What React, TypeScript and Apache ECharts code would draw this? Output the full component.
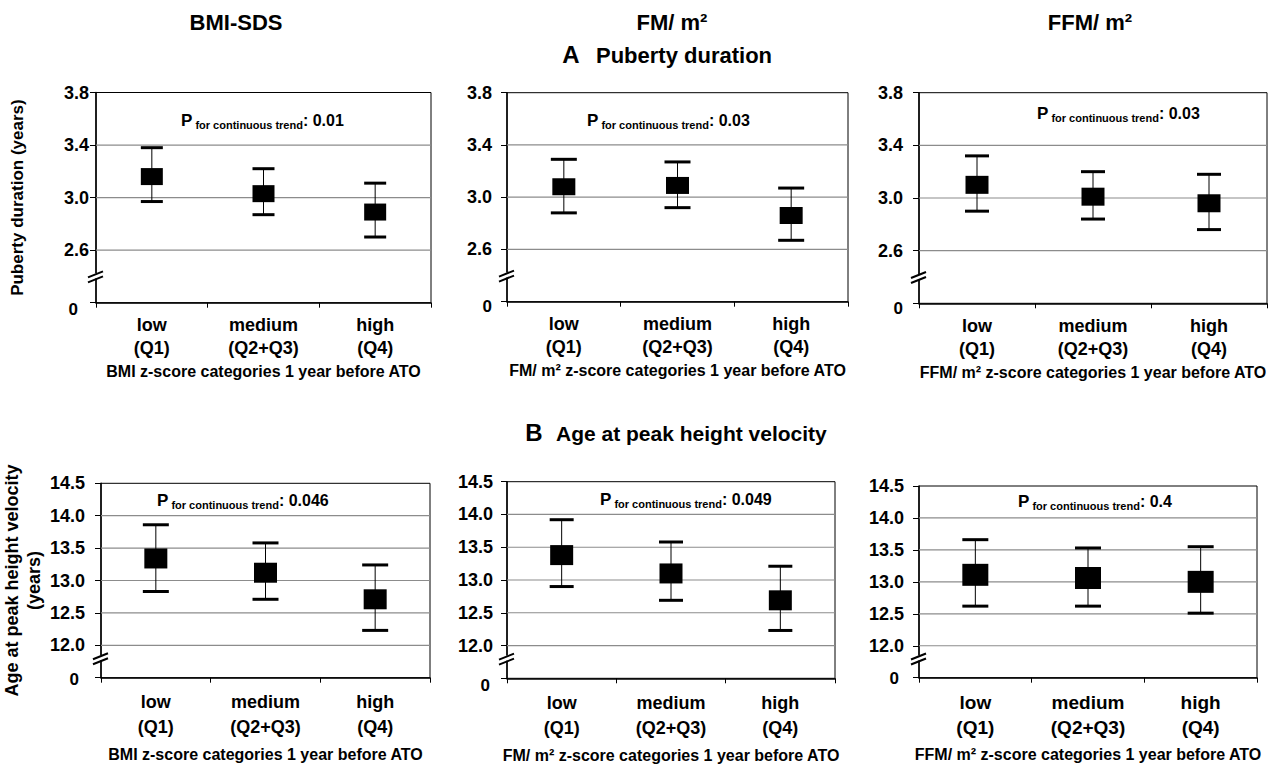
import React, { useEffect, useRef } from "react";
import * as echarts from "echarts";

// ---------- DATA ----------
const categories = ["low\n(Q1)", "medium\n(Q2+Q3)", "high\n(Q4)"];
const columnHeaders = ["BMI-SDS", "FM/ m²", "FFM/ m²"];
const xAxisTitles = [
  "BMI z-score categories 1 year before ATO",
  "FM/ m² z-score categories 1 year before ATO",
  "FFM/ m² z-score categories 1 year before ATO",
];
const sectionA = ["A", "Puberty duration"];
const sectionB = ["B", "Age at peak height velocity"];
const yTitlePuberty = "Puberty duration (years)";
const yTitleAphv = "Age at peak height velocity\n(years)";

// Puberty duration axis (broken axis: "0" drawn at the bottom)
const pubTickValues = [2.2, 2.6, 3.0, 3.4, 3.8];
const pubTickLabels = ["0", "2.6", "3.0", "3.4", "3.8"];
const pubGridValues = [2.6, 3.0, 3.4];
const pubBreak = 2.4;

// Age at peak height velocity axis
const aphvTickValues = [11.5, 12.0, 12.5, 13.0, 13.5, 14.0, 14.5];
const aphvTickLabels = ["0", "12.0", "12.5", "13.0", "13.5", "14.0", "14.5"];
const aphvGridValues = [12.0, 12.5, 13.0, 13.5, 14.0];
const aphvBreak = 11.8;

// Puberty duration (years)
const pubBmiMean = [3.16, 3.03, 2.89];
const pubBmiLower = [2.97, 2.87, 2.7];
const pubBmiUpper = [3.38, 3.22, 3.11];
const pubFmMean = [3.08, 3.09, 2.86];
const pubFmLower = [2.88, 2.92, 2.67];
const pubFmUpper = [3.29, 3.27, 3.07];
const pubFfmMean = [3.1, 3.01, 2.96];
const pubFfmLower = [2.9, 2.84, 2.76];
const pubFfmUpper = [3.32, 3.2, 3.18];

// Age at peak height velocity (years)
const aphvBmiMean = [13.34, 13.12, 12.71];
const aphvBmiLower = [12.83, 12.71, 12.23];
const aphvBmiUpper = [13.86, 13.58, 13.24];
const aphvFmMean = [13.38, 13.1, 12.69];
const aphvFmLower = [12.9, 12.69, 12.23];
const aphvFmUpper = [13.92, 13.58, 13.21];
const aphvFfmMean = [13.11, 13.06, 13.0];
const aphvFfmLower = [12.62, 12.62, 12.51];
const aphvFfmUpper = [13.66, 13.53, 13.55];

const pValues = ["0.01", "0.03", "0.03", "0.046", "0.049", "0.4"];

// ---------- LAYOUT ----------
const FONT = "'Liberation Sans', Arial, Helvetica, sans-serif";

type Panel = {
  mean: number[];
  lower: number[];
  upper: number[];
  ticks: number[];
  tickLabels: string[];
  gridVals: number[];
  brk: number;
  p: string;
  xTitle: string;
  yTitle?: string;
  rect: { left: number; top: number; width: number; height: number };
  labelMargin: number;
  zeroPad: [number, number];
  pPos: [number, number];
  sym: [number, number];
  capW: number;
  catFont: number;
  catLH: number;
  catMargin: number;
  nameGap: number;
  yNameGap?: number;
};

const panels: Panel[] = [
  {
    mean: pubBmiMean, lower: pubBmiLower, upper: pubBmiUpper,
    ticks: pubTickValues, tickLabels: pubTickLabels, gridVals: pubGridValues, brk: pubBreak,
    p: pValues[0], xTitle: xAxisTitles[0], yTitle: yTitlePuberty,
    rect: { left: 96, top: 92.5, width: 335, height: 210.2 },
    labelMargin: 7, zeroPad: [14, 11], pPos: [181, 121], sym: [22, 17], capW: 22,
    catFont: 18, catLH: 23, catMargin: 11, nameGap: 61, yNameGap: 68,
  },
  {
    mean: pubFmMean, lower: pubFmLower, upper: pubFmUpper,
    ticks: pubTickValues, tickLabels: pubTickLabels, gridVals: pubGridValues, brk: pubBreak,
    p: pValues[1], xTitle: xAxisTitles[1],
    rect: { left: 507, top: 92.7, width: 341, height: 209 },
    labelMargin: 15, zeroPad: [10, 0], pPos: [587, 121], sym: [23, 17], capW: 26,
    catFont: 18, catLH: 23, catMargin: 11, nameGap: 61,
  },
  {
    mean: pubFfmMean, lower: pubFfmLower, upper: pubFfmUpper,
    ticks: pubTickValues, tickLabels: pubTickLabels, gridVals: pubGridValues, brk: pubBreak,
    p: pValues[2], xTitle: xAxisTitles[2],
    rect: { left: 919, top: 92.7, width: 348, height: 210.6 },
    labelMargin: 16, zeroPad: [10, 0], pPos: [1037, 114], sym: [23, 18], capW: 24,
    catFont: 18, catLH: 23, catMargin: 11, nameGap: 61,
  },
  {
    mean: aphvBmiMean, lower: aphvBmiLower, upper: aphvBmiUpper,
    ticks: aphvTickValues, tickLabels: aphvTickLabels, gridVals: aphvGridValues, brk: aphvBreak,
    p: pValues[3], xTitle: xAxisTitles[0], yTitle: yTitleAphv,
    rect: { left: 96, top: 483.3, width: 334, height: 194.4 },
    labelMargin: 16, zeroPad: [4, 6], pPos: [157, 501], sym: [23, 20], capW: 26,
    catFont: 18, catLH: 25, catMargin: 12, nameGap: 69, yNameGap: 56,
  },
  {
    mean: aphvFmMean, lower: aphvFmLower, upper: aphvFmUpper,
    ticks: aphvTickValues, tickLabels: aphvTickLabels, gridVals: aphvGridValues, brk: aphvBreak,
    p: pValues[4], xTitle: xAxisTitles[1],
    rect: { left: 507, top: 481.7, width: 328, height: 196.6 },
    labelMargin: 14, zeroPad: [14, 3], pPos: [600, 500], sym: [23, 20], capW: 24,
    catFont: 18, catLH: 25, catMargin: 12, nameGap: 69,
  },
  {
    mean: aphvFfmMean, lower: aphvFfmLower, upper: aphvFfmUpper,
    ticks: aphvTickValues, tickLabels: aphvTickLabels, gridVals: aphvGridValues, brk: aphvBreak,
    p: pValues[5], xTitle: xAxisTitles[2],
    rect: { left: 919, top: 486, width: 338, height: 191.7 },
    labelMargin: 15, zeroPad: [2, 5], pPos: [1018, 502], sym: [26, 22], capW: 26,
    catFont: 19, catLH: 25, catMargin: 12, nameGap: 69,
  },
];

function buildOption(): any {
  const grid = panels.map((p) => ({
    ...p.rect,
    show: true,
    borderColor: "#000",
    borderWidth: 1,
    backgroundColor: "#fff",
    containLabel: false,
  }));

  const xAxis = panels.map((p, i) => ({
    gridIndex: i,
    type: "category",
    data: categories,
    boundaryGap: true,
    axisLine: { show: true, onZero: false, lineStyle: { color: "#000", width: 1.5 } },
    axisTick: { show: true, length: 5, lineStyle: { color: "#000", width: 1 } },
    axisLabel: {
      interval: 0,
      color: "#000",
      fontFamily: FONT,
      fontWeight: "bold",
      fontSize: p.catFont,
      lineHeight: p.catLH,
      margin: p.catMargin,
    },
    splitLine: { show: false },
    name: p.xTitle,
    nameLocation: "middle",
    nameGap: p.nameGap,
    nameTextStyle: { color: "#000", fontFamily: FONT, fontWeight: "bold", fontSize: 16 },
  }));

  const yAxis = panels.map((p, i) => ({
    gridIndex: i,
    type: "value",
    min: p.ticks[0],
    max: p.ticks[p.ticks.length - 1],
    axisLine: { show: true, lineStyle: { color: "#000", width: 1.5 } },
    axisTick: { show: true, length: 6, customValues: p.ticks, lineStyle: { color: "#000" } },
    axisLabel: {
      customValues: p.ticks,
      margin: p.labelMargin,
      color: "#000",
      fontFamily: FONT,
      fontWeight: "bold",
      fontSize: 18,
      formatter: (v: number) => {
        const k = p.ticks.findIndex((t) => Math.abs(t - v) < 1e-6);
        if (k === 0) return "{z|" + p.tickLabels[0] + "}";
        return k >= 0 ? p.tickLabels[k] : "";
      },
      rich: {
        z: {
          color: "#000",
          fontFamily: FONT,
          fontWeight: "bold",
          fontSize: 17,
          padding: [p.zeroPad[0], p.zeroPad[1], 0, 0],
        },
      },
    },
    splitLine: { show: false },
    name: p.yTitle || "",
    nameLocation: "middle",
    nameRotate: 90,
    nameGap: p.yNameGap || 0,
    nameTextStyle: {
      color: "#000",
      fontFamily: FONT,
      fontWeight: "bold",
      fontSize: i === 0 ? 17 : 18,
      lineHeight: 22,
    },
  }));

  const series: any[] = [];
  panels.forEach((p, i) => {
    // horizontal grid lines
    series.push({
      type: "custom",
      xAxisIndex: i,
      yAxisIndex: i,
      z: 1,
      silent: true,
      data: p.gridVals.map((v) => [0, v]),
      renderItem: (params: any, api: any) => {
        const y = api.coord([0, api.value(1)])[1];
        const cs = params.coordSys;
        return {
          type: "line",
          shape: { x1: cs.x, y1: y, x2: cs.x + cs.width, y2: y },
          style: { stroke: "#8c8c8c", lineWidth: 1.2 },
        };
      },
    });
    // axis break marks
    series.push({
      type: "custom",
      xAxisIndex: i,
      yAxisIndex: i,
      z: 6,
      silent: true,
      data: [[0, p.brk]],
      renderItem: (params: any, api: any) => {
        const y = api.coord([0, api.value(1)])[1];
        const x = params.coordSys.x;
        return {
          type: "group",
          children: [
            { type: "rect", shape: { x: x - 2, y: y - 3, width: 4, height: 5 }, style: { fill: "#fff" } },
            { type: "line", shape: { x1: x - 8, y1: y + 1, x2: x + 7, y2: y - 5 }, style: { stroke: "#000", lineWidth: 2 } },
            { type: "line", shape: { x1: x - 8, y1: y + 6, x2: x + 7, y2: y }, style: { stroke: "#000", lineWidth: 2 } },
          ],
        };
      },
    });
    // means with error bars
    series.push({
      type: "custom",
      xAxisIndex: i,
      yAxisIndex: i,
      z: 4,
      data: p.mean.map((m, k) => [k, m, p.lower[k], p.upper[k]]),
      encode: { x: 0, y: [1, 2, 3] },
      renderItem: (params: any, api: any) => {
        const idx = api.value(0);
        const pm = api.coord([idx, api.value(1)]);
        const pl = api.coord([idx, api.value(2)]);
        const ph = api.coord([idx, api.value(3)]);
        const cw = p.capW / 2;
        const [sw, sh] = p.sym;
        return {
          type: "group",
          children: [
            { type: "line", shape: { x1: pm[0], y1: pl[1], x2: pm[0], y2: ph[1] }, style: { stroke: "#000", lineWidth: 1 } },
            { type: "line", shape: { x1: pm[0] - cw, y1: ph[1], x2: pm[0] + cw, y2: ph[1] }, style: { stroke: "#000", lineWidth: 3 } },
            { type: "line", shape: { x1: pm[0] - cw, y1: pl[1], x2: pm[0] + cw, y2: pl[1] }, style: { stroke: "#000", lineWidth: 3 } },
            { type: "rect", shape: { x: pm[0] - sw / 2, y: pm[1] - sh / 2, width: sw, height: sh }, style: { fill: "#000" } },
          ],
        };
      },
    });
  });

  const boldText = (text: string, x: number, y: number, size: number, align: string) => ({
    type: "text",
    x,
    y,
    style: {
      text,
      fill: "#000",
      fontFamily: FONT,
      fontWeight: "bold",
      fontSize: size,
      align,
      verticalAlign: "middle",
    },
  });

  const graphic: any[] = [
    boldText(columnHeaders[0], 236, 22, 22, "center"),
    boldText(columnHeaders[1], 672, 22, 22, "center"),
    boldText(columnHeaders[2], 1090, 22, 22, "center"),
    boldText(sectionA[0], 571, 54, 24, "center"),
    boldText(sectionA[1], 596, 55, 22, "left"),
    boldText(sectionB[0], 534, 432, 24, "center"),
    boldText(sectionB[1], 556, 433, 21, "left"),
  ];

  panels.forEach((p) => {
    graphic.push({
      type: "text",
      x: p.pPos[0],
      y: p.pPos[1],
      z: 10,
      style: {
        text: "{p|P}{s| for continuous trend}{v|: " + p.p + "}",
        fill: "#000",
        fontFamily: FONT,
        fontWeight: "bold",
        align: "left",
        verticalAlign: "middle",
        rich: {
          p: { fontFamily: FONT, fontWeight: "bold", fontSize: 17, lineHeight: 18, verticalAlign: "top", fill: "#000" },
          s: { fontFamily: FONT, fontWeight: "bold", fontSize: 11, lineHeight: 11, verticalAlign: "bottom", fill: "#000" },
          v: { fontFamily: FONT, fontWeight: "bold", fontSize: 16, lineHeight: 17, verticalAlign: "top", fill: "#000" },
        },
      },
    });
  });

  return {
    animation: false,
    backgroundColor: "#fff",
    textStyle: { fontFamily: FONT },
    grid,
    xAxis,
    yAxis,
    series,
    graphic,
  };
}

export default function App() {
  const ref = useRef<HTMLDivElement>(null);
  useEffect(() => {
    if (!ref.current) return;
    const chart = echarts.init(ref.current, undefined, { renderer: "svg" });
    chart.setOption(buildOption());
    return () => chart.dispose();
  }, []);
  return (
    <div
      ref={ref}
      style={{ position: "absolute", left: 0, top: 0, width: 1279, height: 766, background: "#fff" }}
    />
  );
}
